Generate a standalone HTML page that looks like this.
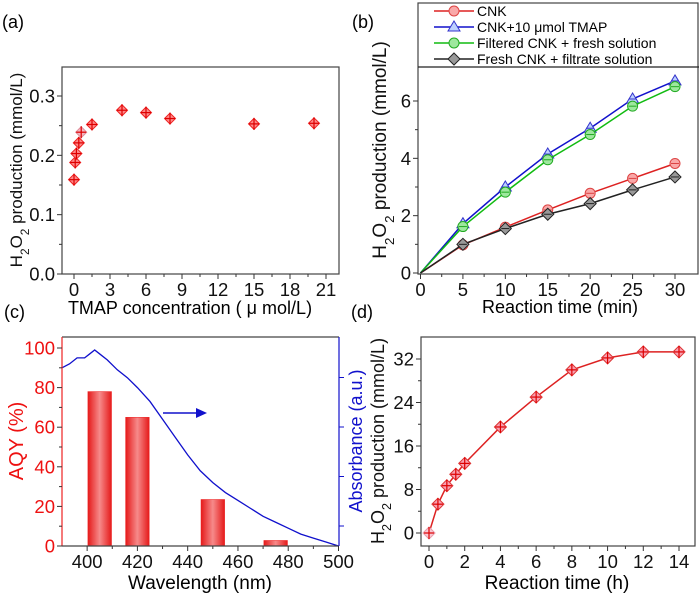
<!DOCTYPE html>
<html><head><meta charset="utf-8">
<style>
html,body{margin:0;padding:0;background:#fff;}
svg{display:block;font-family:"Liberation Sans",Arial,sans-serif;}
</style></head>
<body>
<svg id="fig" width="700" height="597" viewBox="0 0 700 597" xmlns="http://www.w3.org/2000/svg"></svg>
<script>
// ---- Panel (a) data ----
const aX = [0, 0.1, 0.2, 0.4, 0.6, 1.5, 4, 6, 8, 15, 20];
const aY = [0.159, 0.188, 0.203, 0.221, 0.239, 0.252, 0.276, 0.272, 0.262, 0.253, 0.254];
const aXTicks = [0, 3, 6, 9, 12, 15, 18, 21];
const aYTicks = [0.0, 0.1, 0.2, 0.3];
// ---- Panel (b) data ----
const bX = [0, 5, 10, 15, 20, 25, 30];
const bCNK = [0, 0.98, 1.6, 2.2, 2.78, 3.3, 3.82];
const bTMAP = [0, 1.72, 3.0, 4.15, 5.05, 6.07, 6.7];
const bFiltered = [0, 1.62, 2.82, 3.95, 4.83, 5.82, 6.5];
const bFresh = [0, 1.0, 1.55, 2.05, 2.42, 2.9, 3.35];
const bXTicks = [0, 5, 10, 15, 20, 25, 30];
const bYTicks = [0, 2, 4, 6];
const bLegend = ["CNK", "CNK+10 \u03bcmol TMAP", "Filtered CNK + fresh solution", "Fresh CNK + filtrate solution"];
// ---- Panel (c) data ----
const cBarX = [405, 420, 450, 475];
const cBarY = [78, 65, 23.5, 2.8];
const cAbsX = [390, 393, 396, 399, 401, 403, 405, 408, 412, 416, 420, 425, 430, 435, 440, 445, 450, 455, 460, 465, 470, 475, 480, 485, 490, 495, 500];
const cAbsY = [90, 92, 95, 95, 97, 99, 97, 94, 89, 85, 80, 73, 64, 55, 46, 38, 32, 27, 23, 19, 15, 12, 9, 6, 4, 2, 0];
const cXTicks = [400, 420, 440, 460, 480, 500];
const cYTicks = [0, 20, 40, 60, 80, 100];
// ---- Panel (d) data ----
const dX = [0, 0.5, 1, 1.5, 2, 4, 6, 8, 10, 12, 14];
const dY = [0, 5.3, 8.7, 10.8, 12.8, 19.5, 25, 30, 32.2, 33.3, 33.3];
const dXTicks = [0, 2, 4, 6, 8, 10, 12, 14];
const dYTicks = [0, 8, 16, 24, 32];

const NS = "http://www.w3.org/2000/svg";
const svg = document.getElementById('fig');
const TF = 18.5;
function mk(tag, attrs, parent, text) {
  const e = document.createElementNS(NS, tag);
  for (const k in attrs) e.setAttribute(k, attrs[k]);
  if (text !== undefined) e.textContent = text;
  (parent || svg).appendChild(e);
  return e;
}
function lin(d0, d1, r0, r1) { return v => r0 + (v - d0) * (r1 - r0) / (d1 - d0); }

function frame(g, L, T, R, B) {
  mk('rect', {x: L, y: T, width: R - L, height: B - T, fill: 'none', stroke: '#444', 'stroke-width': 1.2}, g);
}
function xTicks(g, ticks, sx, B, col) {
  ticks.forEach(t => {
    const x = sx(t);
    mk('line', {x1: x, y1: B, x2: x, y2: B + 5, stroke: '#333'}, g);
    const tx = mk('text', {x: x, y: B + 22, 'font-size': TF, 'text-anchor': 'middle', fill: col || '#111'}, g, String(t));
    
    
  });
  for (let i = 0; i < ticks.length - 1; i++) {
    const x = (sx(ticks[i]) + sx(ticks[i + 1])) / 2;
    mk('line', {x1: x, y1: B, x2: x, y2: B + 3, stroke: '#333'}, g);
  }
}
function yTicks(g, ticks, sy, L, col, fmt) {
  ticks.forEach(t => {
    const y = sy(t);
    mk('line', {x1: L - 5, y1: y, x2: L, y2: y, stroke: '#333'}, g);
    const tx = mk('text', {x: L - 7, y: y + 6.5, 'font-size': TF, 'text-anchor': 'end', fill: col || '#111'}, g, fmt ? fmt(t) : String(t));
    
    
  });
  for (let i = 0; i < ticks.length - 1; i++) {
    const y = (sy(ticks[i]) + sy(ticks[i + 1])) / 2;
    mk('line', {x1: L - 3, y1: y, x2: L, y2: y, stroke: '#333'}, g);
  }
}
function diamond(g, x, y, fill, stroke, r) {
  r = r || 6;
  const p = mk('polygon', {points: `${x},${y - r} ${x + r},${y} ${x},${y + r} ${x - r},${y}`, fill: fill, stroke: stroke, 'stroke-width': 1}, g);
  mk('line', {x1: x - 5, y1: y, x2: x + 5, y2: y, stroke: '#d00', 'stroke-width': 1.2}, g);
  mk('line', {x1: x, y1: y - 6, x2: x, y2: y + 6, stroke: '#d00', 'stroke-width': 1.2}, g);
  return p;
}
function panelLabel(t, x, y) {
  const e = mk('text', {x: x, y: y, 'font-size': 18}, svg, t);
  
  
}
function yTitle(g, x, cy, parts, col, size) {
  const t = mk('text', {transform: `translate(${x},${cy}) rotate(-90)`, 'text-anchor': 'middle', 'font-size': size || 17, fill: col || '#111'}, g);
  parts.forEach(p => {
    mk('tspan', p.sub ? {'baseline-shift': 'sub', 'font-size': (size || 17) * 0.7} : {}, t, p.t);
  });
  return t;
}

// ================= Panel (a) =================
const ga = mk('g', {});  
panelLabel('(a)', 2, 28);
const aL = 62, aT = 67, aR = 339, aB = 274;
const axs = lin(0, 21, 74, 326), ays = lin(0, 0.3, 274, 96);
frame(ga, aL, aT, aR, aB);
xTicks(ga, aXTicks, axs, aB);
yTicks(ga, aYTicks, ays, aL, '#111', v => v.toFixed(1));
aX.forEach((x, i) => {
  const pink = (i === 4);
  const d = diamond(ga, axs(x) + (i === 0 ? 0 : 0), ays(aY[i]), pink ? '#f4b6c0' : '#f88', pink ? '#e08a98' : '#e22', 5.5);
  
  
});
const aXt = mk('text', {x: 190, y: 314, 'font-size': 18, 'text-anchor': 'middle'}, ga, 'TMAP concentration ( \u03bc mol/L)');
 
const aYt = yTitle(ga, 22, 170, [{t: 'H'}, {t: '2', sub: 1}, {t: 'O'}, {t: '2', sub: 1}, {t: ' production (mmol/L)'}], '#111', 17);
 

// ================= Panel (b) =================
const gb = mk('g', {});  
panelLabel('(b)', 352, 28);
const bL = 418, bT = 67, bR = 699, bB = 274;
const bxs = lin(0, 30, 420.5, 675), bys = lin(0, 6, 273, 101);
mk('rect', {x: bL, y: 3, width: bR - bL - 1, height: bB - 3, fill: 'none', stroke: '#444', 'stroke-width': 1.2}, gb);
mk('line', {x1: bL, y1: bT, x2: bR, y2: bT, stroke: '#222', 'stroke-width': 1.2}, gb);
xTicks(gb, bXTicks, bxs, bB);
yTicks(gb, bYTicks, bys, bL);
const bSeries = [
  {vals: bCNK, line: '#d22', fill: '#f9a8a8', stroke: '#d44', shape: 'circle', name: 'series-cnk'},
  {vals: bTMAP, line: '#11c', fill: '#bcd0ff', stroke: '#33c', shape: 'tri', name: 'series-cnk-tmap'},
  {vals: bFiltered, line: '#1b1', fill: '#9ee89e', stroke: '#2a2', shape: 'circle', name: 'series-filtered'},
  {vals: bFresh, line: '#222', fill: '#999', stroke: '#222', shape: 'diamond', name: 'series-fresh'}
];
function marker(g, shape, x, y, fill, stroke) {
  let e;
  if (shape === 'circle') e = mk('circle', {cx: x, cy: y, r: 5, fill: fill, stroke: stroke}, g);
  else if (shape === 'tri') e = mk('polygon', {points: `${x},${y - 6} ${x + 6},${y + 4} ${x - 6},${y + 4}`, fill: fill, stroke: stroke}, g);
  else e = mk('polygon', {points: `${x},${y - 6} ${x + 6},${y} ${x},${y + 6} ${x - 6},${y}`, fill: fill, stroke: stroke}, g);
  return e;
}
bSeries.forEach((s, si) => {
  const pts = bX.map((x, i) => `${bxs(x)},${bys(s.vals[i])}`).join(' ');
  const pl = mk('polyline', {points: pts, fill: 'none', stroke: s.line, 'stroke-width': 1.5}, gb);
  
  
  bX.forEach((x, i) => {
    if (i === 0) return;
    const m = marker(gb, s.shape, bxs(x), bys(s.vals[i]), s.fill, s.stroke);
    
    
    mk('line', {x1: bxs(x) - 4, y1: bys(s.vals[i]), x2: bxs(x) + 4, y2: bys(s.vals[i]), stroke: s.stroke}, gb);
  });
  const ly = 11 + si * 16;
  const lg = mk('g', {}, gb);
  
  
  mk('line', {x1: 434, y1: ly, x2: 474, y2: ly, stroke: s.line, 'stroke-width': 1.5}, lg);
  marker(lg, s.shape, 454, ly, s.fill, s.stroke);
  mk('text', {x: 477, y: ly + 5, 'font-size': 14}, lg, bLegend[si]);
});
const bXt = mk('text', {x: 560, y: 313, 'font-size': 18, 'text-anchor': 'middle'}, gb, 'Reaction time (min)');
 
const bYt = yTitle(gb, 386, 150, [{t: 'H'}, {t: '2', sub: 1}, {t: 'O'}, {t: '2', sub: 1}, {t: ' production (mmol/L)'}], '#111', 19);
 

// ================= Panel (c) =================
const gc = mk('g', {});  
panelLabel('(c)', 4, 318);
const cL = 62, cT = 337, cR = 339, cB = 546;
const cxs = lin(390, 500, 62, 338.5), cys = lin(0, 100, 546, 348);
const defs = mk('defs', {}, svg);
const grad = mk('linearGradient', {id: 'barg', x1: 0, x2: 1, y1: 0, y2: 0}, defs);
mk('stop', {offset: '0', 'stop-color': '#e51a1a'}, grad);
mk('stop', {offset: '0.5', 'stop-color': '#f68a8a'}, grad);
mk('stop', {offset: '1', 'stop-color': '#e51a1a'}, grad);
cBarX.forEach((x, i) => {
  const w = cxs(x + 4.7) - cxs(x - 4.7);
  const r = mk('rect', {x: cxs(x - 4.7), y: cys(cBarY[i]), width: w, height: cys(0) - cys(cBarY[i]), fill: 'url(#barg)', stroke: '#e22', 'stroke-width': 0.5}, gc);
  
  
});
const absPts = cAbsX.map((x, i) => `${cxs(x)},${cys(cAbsY[i])}`).join(' ');
const absLine = mk('polyline', {points: absPts, fill: 'none', stroke: '#1010cc', 'stroke-width': 1.3}, gc);
 
mk('line', {x1: cL, y1: cT, x2: cR, y2: cT, stroke: '#444', 'stroke-width': 1.2}, gc);
mk('line', {x1: cL, y1: cT, x2: cL, y2: cB, stroke: '#e22', 'stroke-width': 1.2}, gc);
mk('line', {x1: cL, y1: cB, x2: cR, y2: cB, stroke: '#444', 'stroke-width': 1.2}, gc);
mk('line', {x1: cR, y1: cT, x2: cR, y2: cB, stroke: '#11c', 'stroke-width': 1.2}, gc);
xTicks(gc, cXTicks, cxs, cB);
yTicks(gc, cYTicks, cys, cL, '#e11');
[0, 0.25, 0.5, 0.75].forEach(f => mk('line', {x1: cR, y1: cB - f * 198 - 20, x2: cR + 5, y2: cB - f * 198 - 20, stroke: '#11c'}, gc));
const arr = mk('g', {}, gc);  
mk('line', {x1: 163, y1: 413, x2: 198, y2: 413, stroke: '#11c', 'stroke-width': 1.5}, arr);
mk('polygon', {points: '196,408 207,413 196,418', fill: '#11c'}, arr);
const cXt = mk('text', {x: 200, y: 589, 'font-size': 19, 'text-anchor': 'middle'}, gc, 'Wavelength (nm)');
 
const cYt = yTitle(gc, 23, 441, [{t: 'AQY (%)'}], '#e11', 20);
 
const cYr = yTitle(gc, 362, 441, [{t: 'Absorbance (a.u.)'}], '#1111cc', 18);
 

// ================= Panel (d) =================
const gd = mk('g', {});  
panelLabel('(d)', 351, 318);
const dL = 421, dT = 337, dR = 695, dB = 546;
const dxs = lin(0, 14, 429, 679), dys = lin(0, 32, 533, 359);
frame(gd, dL, dT, dR, dB);
xTicks(gd, dXTicks, dxs, dB);
yTicks(gd, dYTicks, dys, dL);
const dLine = mk('polyline', {points: dX.map((x, i) => `${dxs(x)},${dys(dY[i])}`).join(' '), fill: 'none', stroke: '#d22', 'stroke-width': 1.5}, gd);
 
dX.forEach((x, i) => {
  const pink = (i === 0);
  const d = diamond(gd, dxs(x), dys(dY[i]), pink ? '#f9c8d4' : '#f8a0b0', pink ? '#e899a8' : '#d33', 6);
  
  
});
const dXt = mk('text', {x: 557, y: 589, 'font-size': 19, 'text-anchor': 'middle'}, gd, 'Reaction time (h)');
 
const dYt = yTitle(gd, 384, 441, [{t: 'H'}, {t: '2', sub: 1}, {t: 'O'}, {t: '2', sub: 1}, {t: ' production (mmol/L)'}], '#111', 18);
 
</script>
</body></html>
